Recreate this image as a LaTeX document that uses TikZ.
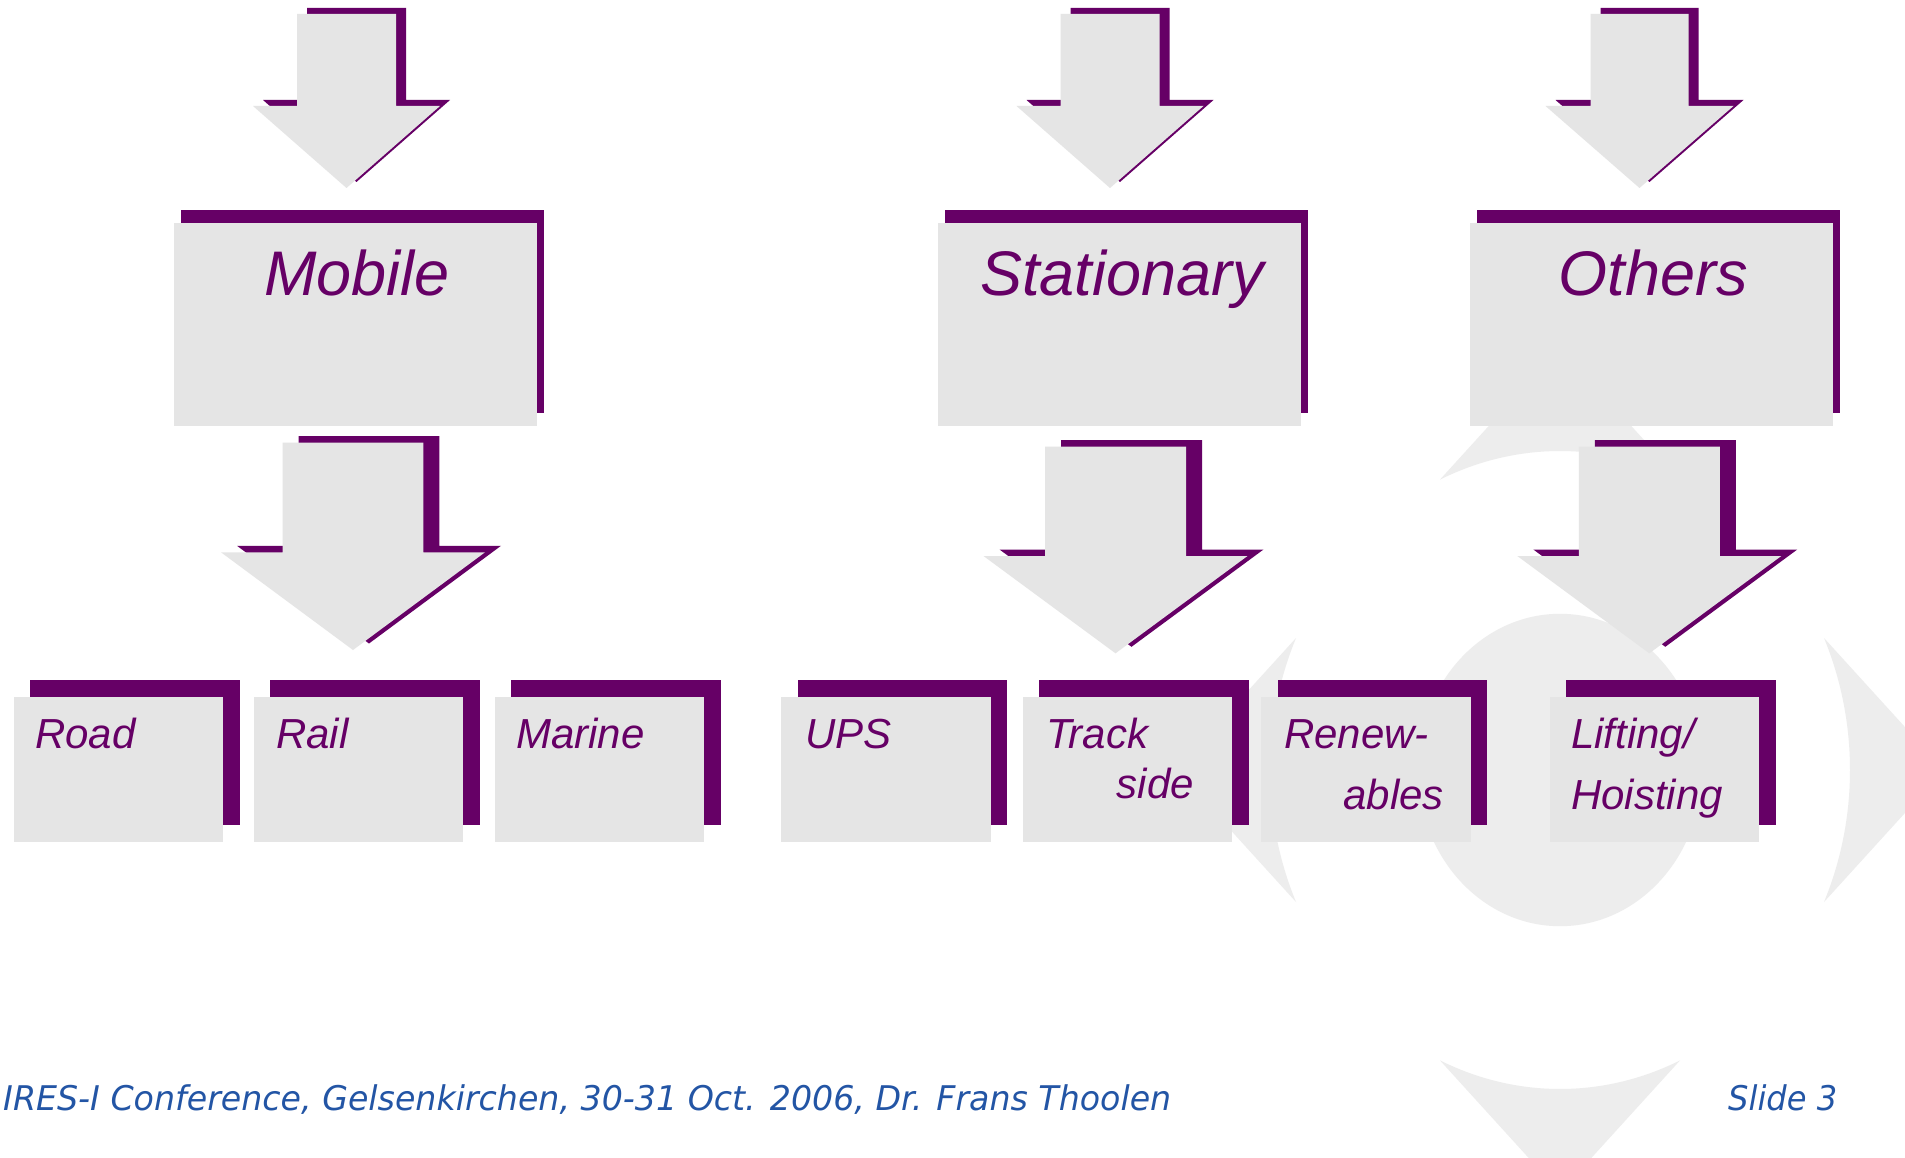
\documentclass[tikz,border=0pt]{standalone}
\usepackage{fontspec}
\usepackage{graphicx}
\setmainfont{Liberation Sans}
\newfontfamily\dvs{DejaVu Sans}
\usetikzlibrary{shadows}
\definecolor{purp}{HTML}{660066}
\definecolor{boxgray}{HTML}{E5E5E5}
\definecolor{logogray}{HTML}{EDEDED}
\definecolor{footblue}{RGB}{35,85,165}
\tikzset{
  bigbox/.style={fill=boxgray, inner sep=0pt, anchor=north west, minimum width=363pt, minimum height=203pt,
    general shadow={fill=purp, shadow xshift=7.5pt, shadow yshift=13pt}},
  smallbox/.style={fill=boxgray, inner sep=0pt, anchor=north west, minimum width=209.5pt, minimum height=145pt,
    general shadow={fill=purp, shadow xshift=16.5pt, shadow yshift=16.7pt}},
  bigtext/.style={text=purp, inner sep=0pt, anchor=base, font=\itshape\fontsize{63}{75}\selectfont},
  smalltext/.style={text=purp, inner sep=0pt, font=\itshape\fontsize{42}{50}\selectfont},
  foot/.style={text=footblue, inner sep=0pt, anchor=base west},
  logo/.style={fill=logogray},
}
% cx, shaft half width, head half width, top y, head y, tip y, shadow dx, shadow dy(up)
\newcommand{\blockarrow}[8]{%
  \fill[purp] ({#1-#2+#7},{#4-#8}) -- ({#1+#2+#7},{#4-#8}) -- ({#1+#2+#7},{#5-#8}) -- ({#1+#3+#7},{#5-#8})
     -- ({#1+#7},{#6-#8}) -- ({#1-#3+#7},{#5-#8}) -- ({#1-#2+#7},{#5-#8}) -- cycle;
  \fill[boxgray] ({#1-#2},{#4}) -- ({#1+#2},{#4}) -- ({#1+#2},{#5}) -- ({#1+#3},{#5})
     -- ({#1},{#6}) -- ({#1-#3},{#5}) -- ({#1-#2},{#5}) -- cycle;
}
\begin{document}
\begin{tikzpicture}[x=1pt,y=-1pt]
\useasboundingbox (0,0) rectangle (1905,1158);
\fill[white] (0,0) rectangle (1905,1158);
\clip (0,0) rectangle (1905,1158);

% background logo
\begin{scope}[shift={(1560,770)}, yscale=-1.1]
  \fill[logo] (0,0) circle (142);
  \fill[logo] (-120,264) -- (0,384) -- (120,264) arc[start angle=65.56, end angle=114.44, radius=290] -- cycle;
  \fill[logo] (-120,-264) -- (0,-384) -- (120,-264) arc[start angle=-65.56, end angle=-114.44, radius=290] -- cycle;
  \fill[logo] (-264,120) -- (-384,0) -- (-264,-120) arc[start angle=204.44, end angle=155.56, radius=290] -- cycle;
  \fill[logo] (264,120) -- (384,0) -- (264,-120) arc[start angle=-24.44, end angle=24.44, radius=290] -- cycle;
\end{scope}

% top arrows
\blockarrow{346.5}{49.5}{93.5}{14}{106}{188}{10}{6}
\blockarrow{1110}{49.5}{93.5}{14}{106}{188}{10}{6}
\blockarrow{1639.5}{49}{94}{14}{106}{188}{10}{6}

% main boxes
\node[bigbox] (mobile) at (173.3,222.7) {};
\node[bigbox] (stationary) at (937.3,222.7) {};
\node[bigbox] (others) at (1469.3,222.5) {};
\node[bigtext] (mobilet) at (357,295) {Mobile};
\node[bigtext] (stationaryt) at (1122,295) {Stationary};
\node[bigtext] (otherst) at (1653,295) {Others};

% second arrows
\blockarrow{353}{70.3}{132}{442.7}{552.3}{650}{16}{6.5}
\blockarrow{1115.5}{70.5}{132}{446.7}{556}{653.3}{16}{6.5}
\blockarrow{1649.3}{70.5}{132}{446.7}{556}{653.3}{16}{6.5}

% small boxes
\node[smallbox] (road) at (13.3,696.7) {};
\node[smallbox] (rail) at (253.3,696.7) {};
\node[smallbox] (marine) at (494.3,696.7) {};
\node[smallbox] (ups) at (781,696.7) {};
\node[smallbox] (track) at (1022.3,696.7) {};
\node[smallbox] (renew) at (1261,696.7) {};
\node[smallbox] (lifting) at (1549.3,696.7) {};

\node[smalltext, anchor=base west] (roadt) at (35,748) {Road};
\node[smalltext, anchor=base west] (railt) at (276,748) {Rail};
\node[smalltext, anchor=base west] (marinet) at (516,748) {Marine};
\node[smalltext, anchor=base west] (upst) at (805,748) {UPS};
\node[smalltext, anchor=base west] (trackt) at (1046,748) {Track};
\node[smalltext, anchor=base east] (sidet) at (1194,798) {side};
\node[smalltext, anchor=base west] (renewt) at (1284,748) {Renew-};
\node[smalltext, anchor=base east] (ablest) at (1444,809) {ables};
\node[smalltext, anchor=base west] (liftingt) at (1571,748) {Lifting/};
\node[smalltext, anchor=base west] (hoistingt) at (1571,809) {Hoisting};

% footer
\node[foot] (footer) at (3,1110) {\resizebox{1168pt}{\height}{\dvs\itshape\fontsize{34}{40}\selectfont IRES-I Conference, Gelsenkirchen, 30-31 Oct. 2006, Dr. Frans Thoolen}};
\node[foot] (slide) at (1728,1110) {\resizebox{109pt}{\height}{\dvs\itshape\fontsize{34}{40}\selectfont Slide 3}};
\end{tikzpicture}
\end{document}
